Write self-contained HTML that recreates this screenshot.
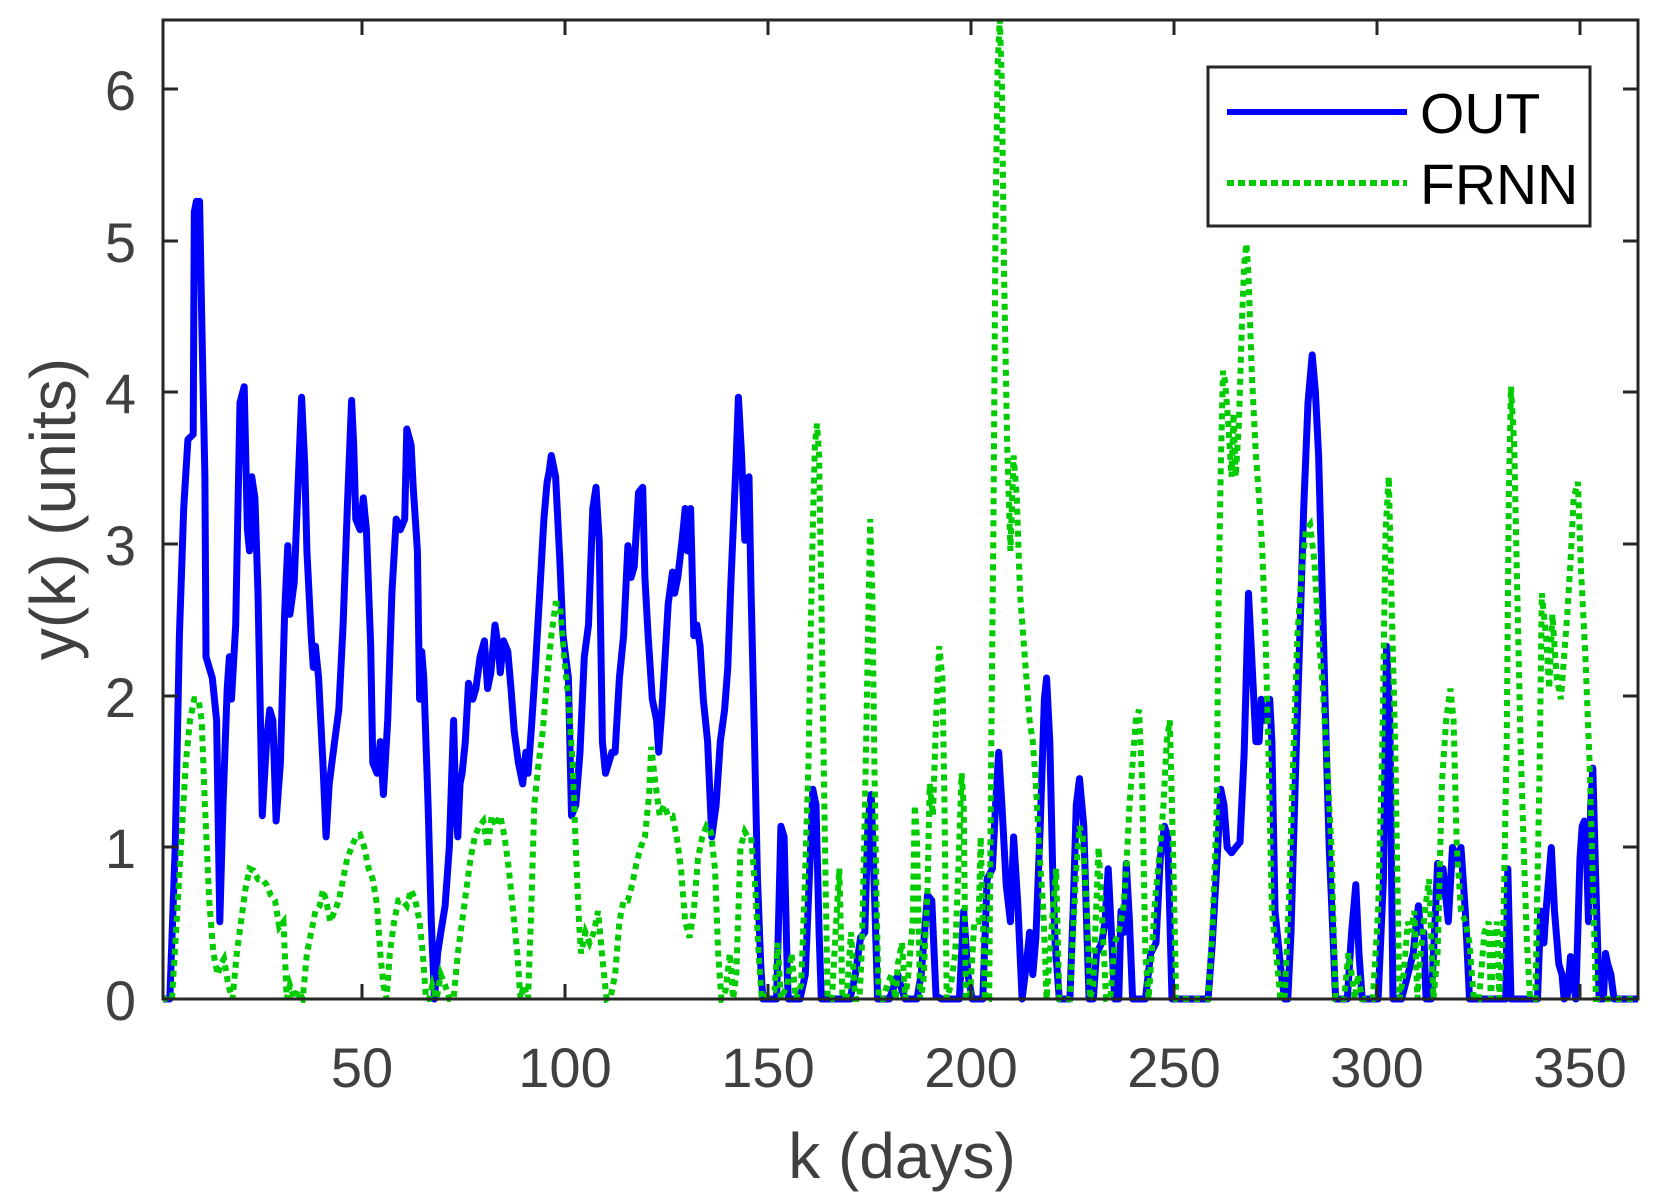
<!DOCTYPE html>
<html><head><meta charset="utf-8"><style>
html,body{margin:0;padding:0;background:#fff;}
svg{display:block;}
text{font-family:"Liberation Sans",Arial,sans-serif;}
</style></head><body>
<svg id="s" width="1660" height="1196" viewBox="0 0 1660 1196" xmlns="http://www.w3.org/2000/svg">
<rect width="1660" height="1196" fill="#fff"/>
<defs><clipPath id="c"><rect x="163" y="20" width="1475" height="983"/></clipPath></defs>
<g clip-path="url(#c)">
<polyline id="out" fill="none" stroke="#0000ff" stroke-width="7" stroke-linejoin="round" points=""/>
<polyline id="fr" fill="none" stroke="#00cc00" stroke-width="6" stroke-dasharray="6 5" points=""/>
</g>
<g stroke="#262626" stroke-width="3" fill="none">
<rect x="163" y="20" width="1475" height="979"/>
<path d="M362 999v-15M565 999v-15M768 999v-15M971 999v-15M1174 999v-15M1377 999v-15M1580 999v-15M362 20v15M565 20v15M768 20v15M971 20v15M1174 20v15M1377 20v15M1580 20v15"/>
<path d="M163 999h15M163 847h15M163 696h15M163 544h15M163 392h15M163 241h15M163 89h15M1638 999h-15M1638 847h-15M1638 696h-15M1638 544h-15M1638 392h-15M1638 241h-15M1638 89h-15"/>
</g>
<g font-size="56" fill="#404040" text-anchor="end">
<text x="136" y="1020">0</text><text x="136" y="868">1</text><text x="136" y="717">2</text><text x="136" y="565">3</text><text x="136" y="413">4</text><text x="136" y="262">5</text><text x="136" y="110">6</text>
</g>
<g font-size="56" fill="#404040" text-anchor="middle">
<text x="362" y="1087">50</text><text x="565" y="1087">100</text><text x="768" y="1087">150</text><text x="971" y="1087">200</text><text x="1174" y="1087">250</text><text x="1377" y="1087">300</text><text x="1580" y="1087">350</text>
</g>
<text x="902" y="1178" font-size="64" fill="#404040" text-anchor="middle">k (days)</text>
<text transform="translate(75,509) rotate(-90)" font-size="64" fill="#404040" text-anchor="middle">y(k) (units)</text>
<rect x="1208" y="67" width="382" height="159" fill="#fff" stroke="#262626" stroke-width="3"/>
<line x1="1227" y1="112" x2="1407" y2="112" stroke="#0000ff" stroke-width="6"/>
<line x1="1227" y1="183" x2="1407" y2="183" stroke="#00cc00" stroke-width="6" stroke-dasharray="7 4"/>
<text x="1420" y="133" font-size="57" fill="#000">OUT</text>
<text x="1420" y="204" font-size="57" fill="#000">FRNN</text>
</svg>
<script>
var O=[155,943,163,943,168,800,172,600,176,480,180,415,185,410,186,200,188,190,190,260,191,190,193,300,196,450,197,620,203,640,207,680,210,870,213,760,217,650,219,620,221,660,225,590,229,380,233,365,236,500,238,520,240,450,243,470,246,560,250,770,254,700,257,670,260,680,263,775,267,720,271,580,274,515,276,580,280,550,284,450,287,375,290,440,292,520,296,600,298,630,300,610,303,640,307,720,310,790,313,740,318,700,322,670,326,590,330,480,334,378,336,420,338,490,342,500,345,470,348,500,352,610,354,720,358,730,361,700,364,750,368,680,372,560,376,490,380,500,384,490,386,405,390,420,392,460,396,520,398,660,400,615,402,640,406,760,409,870,412,943,415,900,418,880,422,855,426,800,430,680,432,760,434,790,436,740,438,730,441,700,444,645,448,660,451,650,455,620,459,605,462,650,465,635,469,590,472,610,474,635,477,605,481,615,484,650,487,690,491,720,495,740,498,710,500,730,503,690,507,630,511,560,515,490,518,455,520,445,522,430,526,450,530,530,533,600,538,640,541,770,545,760,549,710,553,620,557,590,561,480,564,460,567,510,570,700,573,730,576,720,579,710,582,710,586,640,590,600,594,515,597,545,600,535,604,465,608,460,610,545,613,600,617,660,621,680,623,710,626,670,629,620,632,570,636,540,638,560,641,545,645,510,648,480,650,520,653,480,656,600,659,590,662,610,665,660,669,700,673,790,677,760,681,700,685,670,688,630,691,550,694,480,696,430,698,375,701,430,704,510,706,470,708,450,710,560,713,690,716,830,719,910,721,943,734,943,736,860,738,780,741,790,744,920,745,943,756,943,761,920,766,800,768,745,771,760,774,880,776,943,803,943,808,920,813,885,817,880,820,775,823,750,826,840,829,943,840,943,843,935,848,920,852,935,855,943,866,943,870,920,876,845,880,850,884,940,889,943,906,943,910,860,914,920,918,943,928,943,932,830,937,820,940,760,943,710,946,760,950,835,954,870,957,790,961,855,965,943,969,910,972,880,975,920,978,885,982,780,986,660,988,640,991,700,994,830,996,890,1000,943,1010,943,1013,860,1016,760,1019,735,1023,780,1026,880,1028,943,1032,943,1035,900,1040,890,1043,870,1046,820,1049,880,1052,943,1056,943,1058,860,1061,880,1063,815,1066,870,1069,943,1081,943,1086,900,1091,890,1095,810,1099,780,1102,790,1106,943,1140,943,1144,890,1148,820,1152,745,1155,760,1158,800,1162,805,1166,800,1170,795,1174,710,1178,560,1181,620,1185,700,1188,700,1190,660,1193,680,1196,680,1198,660,1200,700,1203,860,1206,890,1209,920,1212,943,1215,943,1218,880,1222,740,1226,610,1230,480,1234,380,1238,335,1241,370,1244,430,1248,580,1251,700,1254,800,1257,870,1260,943,1271,943,1275,880,1279,835,1282,900,1285,943,1300,943,1305,830,1308,610,1311,680,1314,943,1322,943,1328,920,1333,900,1336,870,1338,855,1340,880,1343,880,1345,943,1350,943,1354,860,1356,815,1359,845,1361,820,1363,840,1366,870,1370,800,1374,810,1378,800,1382,860,1386,943,1420,943,1422,820,1425,943,1450,943,1453,860,1456,890,1458,860,1463,800,1466,860,1470,910,1473,920,1475,943,1478,940,1481,903,1484,930,1486,943,1490,810,1492,780,1494,775,1496,800,1498,870,1500,760,1502,725,1505,840,1508,943,1512,943,1514,900,1516,910,1519,920,1522,943,1548,943];
var F=[155,943,165,943,170,860,174,790,178,720,182,680,186,660,190,660,193,680,196,760,200,850,204,900,208,920,211,910,214,905,218,930,222,943,226,900,230,870,234,840,238,820,242,822,246,830,250,830,254,835,258,845,262,850,266,875,270,870,273,943,276,930,280,943,284,935,288,943,292,900,296,880,300,860,304,855,307,840,310,850,314,870,318,860,322,850,326,830,330,810,334,800,338,790,342,788,346,800,350,820,354,830,358,855,361,900,364,930,367,943,370,900,374,870,378,850,382,850,386,855,390,840,394,850,398,870,401,900,404,943,407,943,410,930,414,943,418,920,422,930,426,943,430,943,434,900,438,870,442,840,446,810,450,790,454,780,458,775,462,800,466,770,470,780,474,770,478,790,482,820,486,860,490,900,493,943,496,930,500,943,503,860,506,760,510,720,514,690,518,640,522,600,526,570,530,570,534,620,538,660,542,720,545,800,548,870,550,900,554,880,558,890,562,880,566,860,570,905,574,943,578,940,582,920,586,870,590,850,594,850,598,835,602,815,606,800,610,790,614,750,616,705,620,740,624,770,628,760,632,770,636,770,640,790,644,820,648,870,652,885,656,860,660,810,664,790,668,780,672,785,676,820,679,900,682,943,686,935,690,900,693,943,696,920,700,800,704,785,707,790,710,790,714,840,717,900,720,943,732,935,735,890,738,943,744,930,748,900,752,943,757,930,760,850,764,720,766,600,768,500,770,420,772,400,774,430,776,560,778,700,780,830,782,943,786,943,790,870,793,820,796,943,800,940,804,880,808,943,812,943,814,900,817,770,820,600,822,490,824,560,826,720,828,850,830,943,834,943,838,930,842,920,846,943,848,910,852,890,855,943,858,920,862,870,864,760,866,790,869,943,872,930,876,840,878,740,881,770,884,680,887,610,890,640,892,760,894,943,898,930,902,900,905,820,908,730,910,760,912,943,916,940,920,870,924,870,926,790,930,943,934,943,936,700,938,500,940,200,942,60,944,18,946,80,948,260,951,420,954,520,957,430,960,470,963,560,966,600,969,640,972,680,975,700,978,740,981,800,985,860,988,943,991,900,994,860,997,820,1000,943,1010,943,1013,880,1016,820,1019,780,1022,790,1026,860,1029,943,1032,930,1035,850,1037,800,1040,860,1044,943,1048,943,1052,890,1056,880,1060,860,1063,820,1066,760,1069,720,1072,680,1075,670,1078,740,1081,900,1084,943,1087,900,1090,850,1094,810,1098,760,1101,700,1104,680,1107,800,1110,943,1140,943,1144,880,1148,770,1150,560,1152,440,1154,350,1156,360,1159,400,1162,450,1164,390,1166,450,1169,400,1172,300,1174,250,1176,230,1178,260,1181,350,1185,430,1188,470,1191,520,1194,600,1197,720,1200,860,1204,900,1208,943,1212,943,1216,850,1220,720,1224,600,1228,540,1232,500,1236,495,1240,530,1244,600,1248,650,1252,720,1256,800,1260,943,1268,943,1272,900,1275,920,1278,943,1281,920,1285,943,1295,943,1300,860,1304,700,1307,500,1310,450,1313,580,1316,700,1320,943,1324,920,1328,870,1331,880,1334,860,1337,943,1340,900,1344,860,1348,830,1352,943,1356,900,1360,740,1364,680,1368,650,1371,680,1374,800,1378,860,1382,870,1386,890,1390,943,1395,943,1400,880,1404,870,1406,943,1410,880,1412,870,1414,943,1418,870,1421,700,1423,470,1425,365,1428,420,1431,560,1434,700,1437,800,1440,890,1443,943,1448,943,1452,720,1454,560,1458,600,1461,650,1464,580,1468,640,1472,660,1475,620,1478,580,1481,530,1484,470,1488,455,1491,540,1495,620,1499,720,1502,830,1505,943,1548,943];
function conv(a){var s=[];for(var i=0;i<a.length;i+=2){var x=359+(a[i]-341)*1.0627;if(x<160)x=160;var y=999-(943-a[i+1])*1.0594;s.push(x.toFixed(1)+','+y.toFixed(1));}return s.join(' ');}
document.getElementById('out').setAttribute('points',conv(O));
document.getElementById('fr').setAttribute('points',conv(F));
</script>
</body></html>
